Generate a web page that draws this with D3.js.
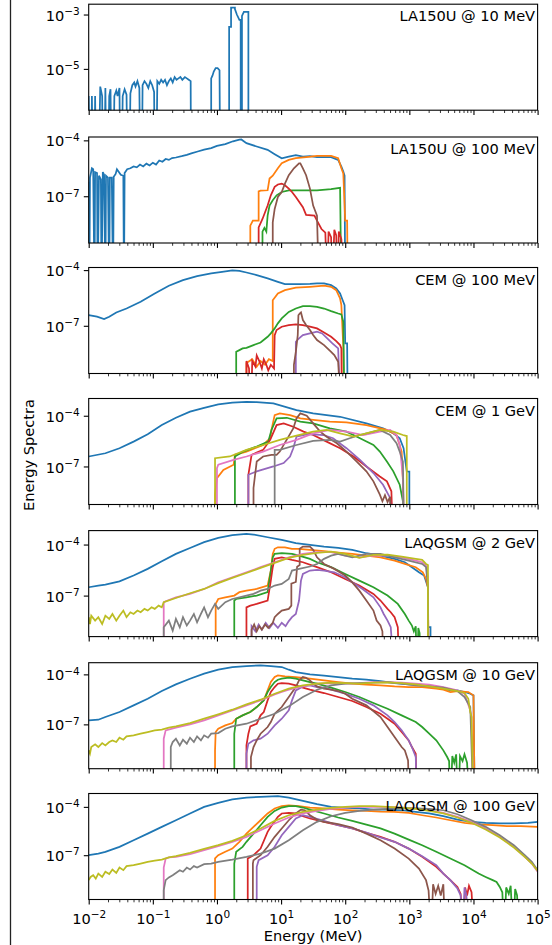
<!DOCTYPE html>
<html>
<head>
<meta charset="utf-8">
<script src="https://cdn.jsdelivr.net/npm/d3@7"></script>
<style>
  body { margin: 0; background: #fff; }
  svg { display: block; font-family: "DejaVu Sans", sans-serif; }
</style>
</head>
<body>
<div id="chart"></div>
<script>
// panel titles, y ranges (log10) and y tick exponents
var panelTitles = ["LA150U @ 10 MeV", "LA150U @ 100 MeV", "CEM @ 100 MeV", "CEM @ 1 GeV",
                   "LAQGSM @ 2 GeV", "LAQGSM @ 10 GeV", "LAQGSM @ 100 GeV"];
var yRanges = [[-6.52, -2.62], [-9.51, -3.82], [-9.57, -3.86], [-9.25, -2.98],
               [-9.41, -3.18], [-9.66, -3.30], [-9.75, -3.17]];
var yTickExps = [[-5, -3], [-7, -4], [-7, -4], [-7, -4], [-7, -4], [-7, -4], [-7, -4]];
var xTickExps = [-2, -1, 0, 1, 2, 3, 4, 5];
var colors = ["#1f77b4", "#ff7f0e", "#2ca02c", "#d62728", "#9467bd", "#8c564b", "#e377c2", "#7f7f7f", "#bcbd22"];

// spectra: [log10 E (MeV), log10 spectrum]; -12 means an empty bin
var p1Blue = [[-2.0,-6.0],[-1.97,-12],[-1.95,-6.0],[-1.92,-12],[-1.9,-6.0],[-1.87,-12],[-1.82,-5.65],[-1.79,-6.0],[-1.77,-12],[-1.74,-5.7],[-1.71,-12],[-1.68,-6.0],[-1.66,-5.75],[-1.63,-12],[-1.6,-6.0],[-1.57,-5.8],[-1.55,-6.0],[-1.52,-5.7],[-1.5,-12],[-1.47,-6.0],[-1.44,-5.75],[-1.41,-5.95],[-1.38,-12],[-1.35,-5.9],[-1.32,-5.6],[-1.29,-5.5],[-1.27,-5.65],[-1.24,-5.45],[-1.21,-5.7],[-1.18,-12],[-1.16,-5.6],[-1.13,-5.45],[-1.1,-5.55],[-1.07,-5.7],[-1.04,-5.45],[-1.01,-5.6],[-0.98,-5.85],[-0.96,-12],[-0.93,-5.45],[-0.9,-5.55],[-0.87,-5.4],[-0.84,-5.5],[-0.81,-5.4],[-0.78,-5.6],[-0.75,-5.45],[-0.72,-5.35],[-0.69,-5.5],[-0.66,-5.3],[-0.63,-5.4],[-0.6,-5.35],[-0.57,-5.3],[-0.54,-5.4],[-0.5,-5.3],[-0.47,-5.35],[-0.44,-5.4],[-0.41,-5.45],[-0.4,-12],[-0.09,-12],[-0.09,-5.35],[-0.07,-5.25],[-0.05,-5.1],[-0.02,-4.97],[0.01,-4.97],[0.04,-5.05],[0.06,-12],[0.19,-12],[0.19,-3.45],[0.22,-3.45],[0.22,-2.75],[0.28,-2.75],[0.28,-2.8],[0.31,-3.0],[0.35,-3.2],[0.37,-3.2],[0.37,-12],[0.39,-12],[0.39,-3.05],[0.42,-2.9],[0.49,-2.9],[0.49,-12]];

var p2Blue = [[-2,-6.22],[-1.99,-12],[-1.98,-6.0],[-1.95,-5.5],[-1.93,-5.55],[-1.91,-12],[-1.9,-5.7],[-1.87,-5.75],[-1.86,-12],[-1.84,-5.9],[-1.81,-6.1],[-1.8,-12],[-1.78,-5.7],[-1.76,-5.85],[-1.74,-12],[-1.73,-5.9],[-1.7,-6.0],[-1.68,-12],[-1.67,-6.0],[-1.64,-6.0],[-1.62,-12],[-1.61,-5.95],[-1.58,-5.8],[-1.56,-5.55],[-1.53,-5.7],[-1.5,-5.85],[-1.46,-5.9],[-1.45,-12],[-1.44,-5.75],[-1.4,-5.55],[-1.35,-5.5],[-1.3,-5.4],[-1.25,-5.45],[-1.2,-5.3],[-1.15,-5.4],[-1.1,-5.25],[-1.05,-5.35],[-1.0,-5.2],[-0.95,-5.3],[-0.9,-5.08],[-0.85,-5.15],[-0.8,-5.0],[-0.75,-5.05],[-0.7,-4.95],[-0.64,-4.92],[-0.55,-4.85],[-0.47,-4.78],[-0.4,-4.7],[-0.3,-4.6],[-0.2,-4.5],[-0.09,-4.42],[0.0,-4.3],[0.13,-4.2],[0.25,-4.05],[0.35,-3.96],[0.38,-3.95],[0.46,-4.15],[0.62,-4.33],[0.79,-4.51],[0.9,-4.74],[1.01,-4.96],[1.12,-4.87],[1.23,-4.8],[1.34,-4.87],[1.45,-4.85],[1.56,-4.9],[1.78,-4.9],[1.89,-5.05],[1.94,-5.41],[1.97,-5.68],[1.99,-5.9],[2.0,-12]];
var p2Orange = [[0.52,-12],[0.52,-8.58],[0.56,-8.31],[0.65,-8.31],[0.65,-6.74],[0.68,-6.7],[0.79,-6.68],[0.82,-6.05],[0.87,-5.9],[0.95,-5.5],[1.01,-5.23],[1.12,-5.05],[1.23,-4.96],[1.39,-4.9],[1.56,-4.83],[1.78,-4.83],[1.89,-4.96],[1.94,-5.5],[1.97,-5.77],[2.0,-8.31],[2.03,-8.31],[2.04,-12]];
var p2Green = [[0.71,-12],[0.71,-8.9],[0.74,-8.7],[0.77,-8.9],[0.79,-8.04],[0.82,-7.5],[0.87,-7.22],[0.93,-6.95],[1.01,-6.77],[1.12,-6.68],[1.34,-6.68],[1.56,-6.68],[1.78,-6.62],[1.92,-6.55],[1.94,-12]];
var p2Red = [[0.65,-12],[0.65,-8.67],[0.71,-8.22],[0.79,-7.5],[0.84,-6.95],[0.9,-6.5],[0.95,-6.37],[1.01,-6.32],[1.06,-6.41],[1.12,-6.59],[1.17,-6.77],[1.23,-7.04],[1.34,-7.59],[1.39,-8.0],[1.52,-8.04],[1.56,-8.31],[1.63,-8.76],[1.69,-8.95],[1.72,-12],[1.74,-8.9],[1.78,-9.2],[1.8,-12],[1.83,-8.8],[1.86,-9.1],[1.88,-12],[1.9,-8.9],[1.94,-9.3],[1.97,-12]];
var p2Brown = [[0.87,-12],[0.87,-8.4],[0.9,-7.68],[0.95,-7.04],[1.01,-6.77],[1.06,-6.32],[1.12,-5.87],[1.2,-5.5],[1.28,-5.23],[1.3,-5.23],[1.34,-5.5],[1.39,-5.87],[1.45,-6.59],[1.5,-7.5],[1.56,-8.04],[1.59,-12]];

var p3Blue = [[-2,-6.43],[-1.87,-6.51],[-1.76,-6.64],[-1.68,-6.51],[-1.57,-6.28],[-1.41,-6.07],[-1.19,-5.71],[-0.97,-5.26],[-0.75,-4.84],[-0.53,-4.54],[-0.31,-4.32],[-0.09,-4.18],[0.08,-4.09],[0.24,-4.02],[0.35,-4.04],[0.46,-4.13],[0.62,-4.27],[0.79,-4.45],[0.95,-4.63],[1.06,-4.75],[1.28,-4.75],[1.45,-4.74],[1.56,-4.72],[1.67,-4.72],[1.78,-4.81],[1.86,-4.99],[1.92,-5.26],[1.95,-5.53],[1.99,-5.89],[2.0,-7.95],[2.03,-7.95],[2.04,-12]];
var p3Orange = [[0.46,-12],[0.46,-9.0],[0.55,-8.8],[0.62,-9.2],[0.68,-8.9],[0.75,-9.1],[0.81,-8.8],[0.87,-8.9],[0.87,-5.62],[0.95,-5.26],[1.06,-5.08],[1.23,-4.95],[1.45,-4.9],[1.67,-4.84],[1.78,-4.9],[1.86,-5.08],[1.92,-5.53],[1.94,-5.89],[1.97,-8.1],[1.98,-12]];
var p3Green = [[0.3,-12],[0.3,-8.4],[0.35,-8.31],[0.4,-8.22],[0.46,-8.19],[0.57,-8.04],[0.68,-7.9],[0.79,-7.59],[0.84,-7.41],[0.9,-7.14],[0.95,-6.87],[1.01,-6.6],[1.12,-6.25],[1.23,-6.07],[1.34,-5.94],[1.45,-5.94],[1.56,-5.98],[1.67,-6.07],[1.78,-6.21],[1.89,-6.34],[1.94,-6.39],[1.97,-6.78],[1.99,-12]];
var p3Red = [[0.46,-12],[0.46,-8.9],[0.5,-9.3],[0.53,-12],[0.55,-8.9],[0.6,-9.2],[0.62,-8.6],[0.66,-8.9],[0.7,-9.3],[0.73,-8.8],[0.77,-9.1],[0.8,-9.4],[0.84,-9.1],[0.89,-9.3],[0.9,-7.5],[0.93,-7.23],[1.01,-7.05],[1.12,-6.96],[1.23,-6.93],[1.34,-6.96],[1.45,-7.05],[1.56,-7.14],[1.67,-7.36],[1.78,-7.59],[1.86,-7.83],[1.92,-8.04],[1.94,-8.22],[1.95,-12]];
var p3Purple = [[1.23,-12],[1.23,-7.86],[1.28,-7.68],[1.34,-7.5],[1.45,-7.41],[1.56,-7.32],[1.64,-7.41],[1.72,-7.68],[1.8,-7.95],[1.89,-8.22],[1.93,-12]];
var p3Brown = [[1.2,-12],[1.2,-9.1],[1.23,-8.4],[1.26,-7.5],[1.27,-6.43],[1.29,-6.34],[1.31,-6.28],[1.34,-6.69],[1.39,-6.96],[1.45,-7.23],[1.5,-7.5],[1.56,-7.77],[1.67,-8.04],[1.78,-8.4],[1.83,-8.58],[1.89,-8.94],[1.94,-12]];

var p4Blue = [[-2,-6.41],[-1.74,-6.22],[-1.52,-5.92],[-1.3,-5.53],[-1.08,-5.1],[-0.86,-4.55],[-0.64,-4.12],[-0.42,-3.76],[-0.2,-3.53],[0.02,-3.33],[0.24,-3.22],[0.46,-3.18],[0.62,-3.2],[0.88,-3.27],[1.24,-3.67],[1.5,-3.86],[1.92,-4.06],[2.33,-4.45],[2.59,-4.75],[2.75,-5.04],[2.85,-5.33],[2.91,-5.92],[2.96,-7.29],[3.0,-7.3],[3.0,-12]];
var p4Orange = [[-0.03,-12],[-0.03,-8.67],[0.0,-7.69],[0.1,-7.2],[0.26,-6.9],[0.28,-6.31],[0.46,-6.12],[0.72,-5.73],[0.83,-5.33],[0.85,-4.84],[0.9,-3.96],[0.98,-3.86],[1.14,-3.96],[1.3,-4.16],[1.5,-4.25],[1.76,-4.35],[2.02,-4.39],[2.33,-4.55],[2.65,-4.84],[2.8,-5.14],[2.88,-6.12],[2.9,-7.88],[2.92,-12]];
var p4Green = [[0.28,-12],[0.28,-6.41],[0.41,-6.12],[0.62,-5.82],[0.8,-5.53],[0.85,-4.84],[0.93,-4.16],[1.09,-4.12],[1.3,-4.35],[1.5,-4.45],[1.76,-4.75],[2.02,-4.94],[2.23,-5.33],[2.44,-5.73],[2.54,-6.12],[2.65,-6.71],[2.75,-7.29],[2.85,-8.08],[2.9,-9.06],[2.92,-12]];
var p4Red = [[0.49,-12],[0.49,-7.49],[0.54,-6.31],[0.72,-6.02],[0.83,-5.43],[0.93,-4.55],[1.04,-4.45],[1.19,-4.65],[1.35,-4.94],[1.5,-5.14],[1.71,-5.53],[1.92,-5.92],[2.13,-6.41],[2.33,-7.0],[2.54,-7.59],[2.65,-7.88],[2.72,-8.47],[2.75,-12]];
var p4Purple = [[0.49,-12],[0.49,-7.49],[0.62,-7.29],[0.88,-7.0],[1.04,-6.8],[1.14,-6.41],[1.19,-5.92],[1.24,-5.24],[1.4,-5.1],[1.5,-5.1],[1.66,-5.14],[1.81,-5.33],[2.02,-5.92],[2.23,-6.61],[2.44,-7.39],[2.59,-8.08],[2.7,-8.86],[2.75,-12]];
var p4Brown = [[0.57,-12],[0.57,-8.27],[0.62,-6.71],[0.72,-6.41],[0.85,-6.31],[0.93,-6.31],[0.98,-6.12],[1.19,-4.75],[1.24,-4.16],[1.3,-3.86],[1.4,-4.0],[1.5,-4.45],[1.61,-4.94],[1.71,-5.24],[1.87,-5.63],[2.02,-6.12],[2.18,-6.71],[2.33,-7.29],[2.44,-7.88],[2.54,-8.67],[2.58,-9.06],[2.62,-8.7],[2.66,-9.1],[2.7,-8.8],[2.72,-12]];
var p4Pink = [[0.0,-12],[0.0,-7.1],[0.02,-6.9],[0.26,-6.61],[0.46,-6.41],[0.72,-6.12],[0.98,-5.73],[1.24,-5.43],[1.5,-5.04],[1.76,-4.84],[2.02,-4.94],[2.28,-5.14],[2.54,-4.94],[2.7,-4.84],[2.8,-5.14],[2.85,-5.73],[2.9,-7.69],[2.92,-12]];
var p4Gray = [[0.9,-12],[0.9,-6.02],[0.98,-6.02],[1.24,-5.73],[1.5,-5.49],[1.76,-5.43],[1.92,-5.53],[2.07,-5.33],[2.23,-5.14],[2.44,-4.94],[2.54,-4.84],[2.7,-5.14],[2.8,-5.63],[2.85,-6.12],[2.9,-6.71],[2.92,-12]];
var p4Olive = [[-0.03,-12],[-0.03,-6.51],[0.2,-6.41],[0.46,-6.02],[0.72,-5.73],[0.98,-5.43],[1.24,-5.18],[1.5,-4.94],[1.71,-4.84],[1.92,-5.04],[2.13,-5.24],[2.33,-5.04],[2.54,-4.84],[2.75,-4.94],[2.9,-5.14],[2.96,-5.2],[2.96,-12]];

var p5Blue = [[-2,-6.51],[-1.85,-6.41],[-1.74,-6.35],[-1.52,-6.16],[-1.3,-5.82],[-1.08,-5.43],[-0.86,-4.98],[-0.64,-4.55],[-0.42,-4.2],[-0.2,-3.86],[0.02,-3.61],[0.24,-3.45],[0.46,-3.37],[0.57,-3.41],[0.79,-3.57],[1.01,-3.73],[1.23,-3.92],[1.45,-4.02],[1.67,-4.12],[1.89,-4.2],[2.11,-4.31],[2.33,-4.51],[2.55,-4.65],[2.77,-4.84],[2.93,-5.04],[3.04,-5.33],[3.15,-5.63],[3.23,-5.82],[3.29,-6.51],[3.29,-8.86],[3.33,-8.86],[3.33,-12]];
var p5Orange = [[-0.02,-12],[-0.02,-7.49],[0.02,-7.2],[0.13,-7.1],[0.27,-7.0],[0.35,-6.8],[0.46,-6.71],[0.62,-6.61],[0.79,-6.41],[0.84,-5.53],[0.87,-4.55],[0.9,-4.25],[0.95,-4.16],[1.06,-4.16],[1.17,-4.25],[1.28,-4.25],[1.45,-4.31],[1.67,-4.39],[1.89,-4.47],[2.11,-4.55],[2.33,-4.65],[2.55,-4.75],[2.77,-4.94],[2.93,-5.14],[3.1,-5.33],[3.21,-5.63],[3.26,-6.02],[3.29,-6.51],[3.3,-12]];
var p5Green = [[0.27,-12],[0.27,-7.29],[0.3,-7.2],[0.46,-7.1],[0.62,-7.0],[0.79,-6.8],[0.84,-5.53],[0.87,-4.75],[0.9,-4.55],[1.01,-4.51],[1.17,-4.55],[1.28,-4.65],[1.45,-4.84],[1.56,-5.04],[1.78,-5.33],[2.0,-5.73],[2.22,-6.12],[2.44,-6.51],[2.66,-7.0],[2.82,-7.49],[2.93,-8.08],[2.99,-8.47],[3.04,-8.76],[3.07,-9.1],[3.1,-8.8],[3.12,-12],[3.14,-8.9],[3.16,-9.2],[3.18,-12]];
var p5Red = [[0.46,-12],[0.46,-7.69],[0.52,-7.59],[0.62,-7.49],[0.79,-7.29],[0.84,-6.12],[0.87,-5.33],[0.9,-4.84],[1.01,-4.75],[1.17,-4.9],[1.34,-5.04],[1.56,-5.33],[1.78,-5.63],[2.0,-6.02],[2.22,-6.41],[2.44,-6.9],[2.55,-7.29],[2.66,-7.78],[2.71,-7.98],[2.77,-8.27],[2.82,-8.86],[2.85,-12]];
var p5Purple = [[0.54,-12],[0.54,-8.8],[0.6,-9.1],[0.65,-8.7],[0.7,-9.0],[0.76,-8.6],[0.82,-8.9],[0.88,-8.6],[0.95,-8.9],[1.01,-8.6],[1.07,-8.8],[1.12,-8.5],[1.17,-8.27],[1.23,-8.08],[1.28,-7.29],[1.31,-6.12],[1.34,-5.73],[1.45,-5.53],[1.56,-5.49],[1.67,-5.53],[1.83,-5.63],[2.0,-5.92],[2.11,-6.22],[2.27,-6.61],[2.44,-7.1],[2.55,-7.69],[2.6,-8.08],[2.66,-8.47],[2.71,-8.86],[2.77,-12]];
var p5Brown = [[0.54,-12],[0.54,-9.0],[0.58,-8.7],[0.62,-9.1],[0.66,-8.8],[0.7,-9.0],[0.75,-8.7],[0.8,-8.9],[0.87,-8.6],[0.9,-8.27],[0.95,-8.08],[1.01,-7.88],[1.12,-7.78],[1.16,-7.59],[1.16,-6.3],[1.23,-6.2],[1.25,-5.3],[1.29,-5.2],[1.29,-4.25],[1.34,-4.12],[1.45,-4.12],[1.5,-4.31],[1.56,-4.75],[1.67,-5.14],[1.83,-5.43],[2.0,-5.82],[2.11,-6.22],[2.22,-6.71],[2.33,-7.29],[2.44,-7.88],[2.49,-8.47],[2.55,-8.76],[2.58,-9.1],[2.6,-12]];
var p5Pink = [[-0.83,-12],[-0.83,-7.39],[-0.8,-7.33],[-0.64,-7.1],[-0.42,-6.9],[-0.2,-6.61],[0.02,-6.22],[0.24,-5.92],[0.46,-5.63],[0.68,-5.33],[0.9,-5.04],[1.12,-4.75],[1.34,-4.55],[1.56,-4.45],[1.78,-4.45],[2.0,-4.65],[2.22,-4.75],[2.44,-4.65],[2.66,-4.65],[2.88,-4.75],[3.1,-4.94],[3.2,-5.04],[3.26,-5.24],[3.29,-5.92],[3.3,-12]];
var p5Gray = [[-0.83,-12],[-0.83,-8.86],[-0.75,-8.47],[-0.69,-9.06],[-0.64,-8.37],[-0.58,-8.86],[-0.53,-8.27],[-0.47,-8.76],[-0.42,-8.47],[-0.36,-8.08],[-0.31,-8.57],[-0.25,-8.08],[-0.2,-7.69],[-0.14,-8.27],[-0.09,-7.88],[-0.03,-7.49],[0.02,-7.78],[0.13,-7.39],[0.24,-7.2],[0.35,-7.1],[0.46,-7.0],[0.57,-6.9],[0.68,-6.71],[0.79,-6.61],[0.9,-6.41],[1.01,-6.31],[1.12,-6.02],[1.15,-5.73],[1.17,-5.53],[1.28,-5.43],[1.45,-5.29],[1.56,-5.14],[1.67,-4.84],[1.78,-4.65],[1.89,-4.55],[2.0,-4.65],[2.11,-4.75],[2.33,-4.55],[2.55,-4.55],[2.77,-4.75],[2.99,-4.94],[3.2,-5.14],[3.26,-5.33],[3.29,-6.51],[3.3,-12]];
var p5Olive = [[-2,-8.27],[-1.98,-8.67],[-1.96,-8.18],[-1.9,-8.47],[-1.85,-8.27],[-1.79,-8.67],[-1.74,-8.18],[-1.68,-8.37],[-1.63,-8.08],[-1.57,-8.47],[-1.52,-8.18],[-1.46,-7.88],[-1.41,-8.27],[-1.35,-7.98],[-1.3,-8.08],[-1.24,-7.88],[-1.19,-7.98],[-1.13,-7.78],[-1.08,-7.88],[-1.02,-7.69],[-0.97,-7.78],[-0.91,-7.59],[-0.86,-7.69],[-0.83,-7.39],[-0.64,-7.14],[-0.42,-6.86],[-0.2,-6.61],[0.02,-6.27],[0.24,-5.96],[0.46,-5.67],[0.68,-5.37],[0.9,-5.08],[1.12,-4.78],[1.34,-4.61],[1.56,-4.49],[1.78,-4.41],[2.0,-4.55],[2.22,-4.78],[2.44,-4.61],[2.66,-4.59],[2.88,-4.71],[3.1,-4.84],[3.2,-4.9],[3.26,-5.14],[3.29,-5.2],[3.29,-12]];

var p6Blue = [[-2,-6.76],[-1.85,-6.72],[-1.74,-6.56],[-1.52,-6.26],[-1.3,-5.86],[-1.08,-5.46],[-0.86,-5.0],[-0.64,-4.6],[-0.42,-4.26],[-0.2,-3.96],[0.02,-3.72],[0.24,-3.56],[0.46,-3.5],[0.68,-3.46],[0.84,-3.5],[1.01,-3.56],[1.12,-3.72],[1.23,-3.86],[1.45,-4.0],[1.67,-4.08],[1.89,-4.16],[2.11,-4.26],[2.33,-4.32],[2.55,-4.4],[2.77,-4.52],[2.99,-4.6],[3.2,-4.66],[3.42,-4.76],[3.53,-4.86],[3.64,-4.96],[3.75,-4.96],[3.86,-5.06],[3.95,-5.16],[4.0,-5.26],[4.02,-12]];
var p6Orange = [[-0.03,-12],[-0.03,-8.56],[-0.02,-7.46],[0.02,-7.26],[0.13,-7.06],[0.24,-6.92],[0.3,-6.66],[0.4,-6.46],[0.52,-6.26],[0.62,-5.96],[0.73,-5.56],[0.79,-4.96],[0.84,-4.46],[0.9,-4.16],[0.95,-4.06],[1.06,-4.12],[1.23,-4.16],[1.45,-4.26],[1.67,-4.36],[1.89,-4.46],[2.11,-4.56],[2.33,-4.62],[2.55,-4.66],[2.77,-4.72],[2.99,-4.76],[3.2,-4.76],[3.42,-4.86],[3.53,-4.92],[3.64,-5.06],[3.75,-5.0],[3.92,-5.06],[4.0,-5.26],[4.02,-12]];
var p6Green = [[0.27,-12],[0.27,-7.56],[0.3,-6.66],[0.4,-6.46],[0.52,-6.26],[0.62,-5.96],[0.73,-5.56],[0.79,-5.06],[0.84,-4.76],[0.9,-4.46],[0.95,-4.32],[1.01,-4.26],[1.12,-4.2],[1.23,-4.26],[1.34,-4.36],[1.45,-4.46],[1.56,-4.56],[1.78,-4.8],[2.0,-5.06],[2.22,-5.36],[2.44,-5.72],[2.66,-6.06],[2.88,-6.46],[3.1,-6.86],[3.2,-7.16],[3.31,-7.56],[3.42,-7.96],[3.53,-8.56],[3.59,-8.96],[3.62,-9.2],[3.64,-12],[3.67,-8.9],[3.7,-9.3],[3.73,-8.8],[3.76,-12],[3.79,-8.9],[3.83,-9.2],[3.86,-8.8],[3.9,-9.3],[3.94,-12]];
var p6Red = [[0.46,-12],[0.46,-8.26],[0.49,-7.56],[0.52,-7.12],[0.62,-6.96],[0.68,-6.46],[0.73,-6.26],[0.79,-5.56],[0.84,-5.06],[0.9,-4.76],[0.95,-4.56],[1.01,-4.52],[1.12,-4.56],[1.23,-4.66],[1.34,-4.8],[1.45,-4.92],[1.67,-5.12],[1.89,-5.36],[2.11,-5.6],[2.33,-5.96],[2.55,-6.36],[2.66,-6.66],[2.77,-6.96],[2.88,-7.46],[2.99,-7.96],[3.04,-8.36],[3.1,-8.76],[3.12,-12]];
var p6Purple = [[0.46,-12],[0.46,-8.76],[0.49,-8.16],[0.57,-7.96],[0.68,-7.86],[0.79,-7.56],[0.9,-7.06],[1.01,-6.66],[1.12,-6.16],[1.17,-5.56],[1.23,-4.96],[1.34,-4.72],[1.45,-4.66],[1.56,-4.76],[1.67,-4.8],[1.78,-4.92],[2.0,-5.16],[2.22,-5.46],[2.44,-5.86],[2.66,-6.46],[2.77,-6.86],[2.88,-7.36],[2.99,-7.96],[3.04,-8.36],[3.1,-8.96],[3.12,-12]];
var p6Brown = [[0.53,-12],[0.53,-8.96],[0.57,-8.36],[0.62,-7.96],[0.68,-7.56],[0.79,-7.16],[0.84,-6.86],[0.9,-6.36],[1.01,-5.96],[1.12,-5.36],[1.23,-4.76],[1.28,-4.36],[1.34,-4.16],[1.39,-4.2],[1.45,-4.36],[1.5,-4.56],[1.56,-4.72],[1.67,-4.86],[1.78,-4.92],[1.89,-5.0],[2.0,-5.16],[2.11,-5.46],[2.33,-5.86],[2.55,-6.56],[2.66,-7.16],[2.77,-7.76],[2.88,-8.36],[2.93,-8.56],[2.98,-9.16],[3.0,-12]];
var p6Pink = [[-0.83,-12],[-0.83,-7.86],[-0.8,-7.36],[-0.64,-7.2],[-0.42,-7.0],[-0.2,-6.76],[0.02,-6.46],[0.24,-6.16],[0.46,-5.86],[0.68,-5.56],[0.9,-5.2],[1.01,-5.06],[1.12,-4.92],[1.34,-4.72],[1.56,-4.56],[1.78,-4.52],[2.0,-4.56],[2.22,-4.52],[2.44,-4.46],[2.66,-4.46],[2.88,-4.5],[3.1,-4.56],[3.31,-4.62],[3.53,-4.76],[3.75,-4.96],[3.86,-5.16],[3.95,-6.16],[3.97,-6.56],[4.0,-12]];
var p6Gray = [[-0.72,-12],[-0.72,-8.36],[-0.69,-8.06],[-0.64,-7.86],[-0.58,-8.26],[-0.53,-7.92],[-0.47,-8.16],[-0.42,-7.8],[-0.36,-8.06],[-0.31,-7.72],[-0.25,-7.96],[-0.2,-7.66],[-0.14,-7.8],[-0.09,-7.56],[0.02,-7.52],[0.13,-7.26],[0.24,-7.12],[0.46,-6.96],[0.68,-6.66],[0.9,-6.36],[1.12,-5.92],[1.34,-5.36],[1.56,-4.92],[1.78,-4.66],[2.0,-4.56],[2.22,-4.52],[2.44,-4.5],[2.66,-4.46],[2.88,-4.56],[3.1,-4.66],[3.31,-4.72],[3.53,-4.8],[3.75,-5.0],[3.86,-5.36],[3.95,-5.96],[4.0,-12]];
var p6Olive = [[-2,-8.56],[-1.98,-8.76],[-1.96,-8.36],[-1.9,-8.2],[-1.85,-8.36],[-1.79,-8.12],[-1.74,-8.26],[-1.68,-8.06],[-1.63,-7.96],[-1.57,-8.06],[-1.52,-7.8],[-1.46,-7.92],[-1.41,-7.72],[-1.3,-7.66],[-1.19,-7.56],[-1.08,-7.46],[-0.97,-7.36],[-0.86,-7.32],[-0.75,-7.2],[-0.64,-7.12],[-0.42,-6.92],[-0.2,-6.66],[0.02,-6.4],[0.24,-6.12],[0.46,-5.8],[0.68,-5.52],[0.9,-5.16],[1.12,-4.86],[1.34,-4.66],[1.56,-4.56],[1.78,-4.5],[2.0,-4.52],[2.22,-4.56],[2.44,-4.5],[2.66,-4.48],[2.88,-4.52],[3.1,-4.6],[3.31,-4.72],[3.53,-4.86],[3.75,-5.0],[3.86,-5.12],[3.92,-5.46],[3.95,-6.26],[3.97,-6.56],[4.0,-12]];

var p7Blue = [[-2,-7.0],[-1.85,-6.9],[-1.74,-6.79],[-1.52,-6.48],[-1.3,-6.07],[-1.08,-5.66],[-0.86,-5.24],[-0.64,-4.83],[-0.42,-4.41],[-0.2,-4.0],[0.02,-3.75],[0.24,-3.54],[0.46,-3.42],[0.68,-3.38],[0.95,-3.34],[1.12,-3.42],[1.34,-3.63],[1.56,-3.83],[1.78,-4.0],[2.0,-4.06],[2.22,-4.1],[2.44,-4.17],[2.66,-4.17],[2.88,-4.21],[3.1,-4.31],[3.31,-4.41],[3.53,-4.58],[3.75,-4.79],[3.97,-4.93],[4.19,-4.99],[4.41,-5.03],[4.63,-5.03],[4.85,-4.99],[5.0,-4.93]];
var p7Orange = [[-0.03,-12],[-0.03,-7.2],[0.02,-7.0],[0.13,-6.79],[0.24,-6.59],[0.35,-6.17],[0.46,-5.66],[0.57,-5.24],[0.68,-4.83],[0.79,-4.41],[0.9,-4.1],[1.01,-3.96],[1.12,-3.9],[1.28,-3.96],[1.45,-4.04],[1.67,-4.1],[1.89,-4.17],[2.11,-4.21],[2.33,-4.25],[2.55,-4.29],[2.77,-4.31],[2.99,-4.37],[3.2,-4.52],[3.42,-4.66],[3.64,-4.83],[3.86,-4.99],[4.08,-5.08],[4.3,-5.14],[4.52,-5.2],[4.74,-5.2],[5.0,-5.24]];
var p7Green = [[0.27,-12],[0.27,-7.52],[0.3,-6.79],[0.4,-6.48],[0.46,-6.17],[0.57,-5.66],[0.68,-5.14],[0.79,-4.62],[0.9,-4.25],[1.01,-4.04],[1.12,-3.96],[1.23,-3.96],[1.34,-4.04],[1.45,-4.17],[1.67,-4.41],[1.89,-4.66],[2.11,-4.87],[2.33,-5.1],[2.55,-5.34],[2.77,-5.66],[2.99,-6.03],[3.2,-6.38],[3.42,-6.79],[3.64,-7.2],[3.86,-7.62],[4.08,-8.14],[4.19,-8.35],[4.3,-8.55],[4.36,-8.66],[4.41,-8.97],[4.45,-9.3],[4.48,-12],[4.51,-9.0],[4.55,-9.4],[4.58,-8.9],[4.62,-12],[4.65,-9.1],[4.68,-9.5],[4.71,-12]];
var p7Red = [[0.48,-12],[0.48,-7.21],[0.57,-7.0],[0.68,-6.59],[0.79,-5.55],[0.84,-5.24],[0.95,-4.62],[1.01,-4.41],[1.12,-4.37],[1.23,-4.41],[1.34,-4.58],[1.45,-4.72],[1.67,-4.93],[1.89,-5.14],[2.11,-5.34],[2.33,-5.61],[2.55,-5.86],[2.77,-6.17],[2.99,-6.59],[3.2,-7.1],[3.42,-7.72],[3.53,-8.14],[3.64,-8.55],[3.75,-8.97],[3.8,-9.4],[3.84,-12],[3.87,-9.0],[3.9,-9.5],[3.93,-8.9],[3.97,-9.3],[4.01,-12]];
var p7Purple = [[0.62,-12],[0.62,-7.72],[0.65,-7.31],[0.79,-7.0],[0.9,-6.48],[1.01,-5.76],[1.12,-5.24],[1.23,-4.72],[1.34,-4.52],[1.45,-4.62],[1.67,-4.87],[1.89,-5.14],[2.11,-5.34],[2.33,-5.59],[2.55,-5.9],[2.77,-6.17],[2.99,-6.59],[3.2,-7.06],[3.42,-7.62],[3.53,-8.14],[3.64,-8.55],[3.75,-9.07],[3.8,-9.5],[3.83,-12],[3.86,-9.0],[3.89,-9.5],[3.92,-12]];
var p7Brown = [[0.56,-12],[0.56,-7.52],[0.57,-7.31],[0.68,-7.0],[0.79,-6.48],[0.9,-5.86],[1.01,-5.34],[1.12,-4.83],[1.23,-4.41],[1.31,-4.17],[1.37,-4.21],[1.45,-4.52],[1.56,-4.79],[1.67,-4.93],[1.78,-4.99],[1.89,-5.07],[2.11,-5.28],[2.33,-5.66],[2.55,-6.07],[2.77,-6.59],[2.99,-7.21],[3.15,-7.83],[3.26,-8.55],[3.3,-9.2],[3.34,-12],[3.37,-8.8],[3.41,-9.4],[3.45,-8.9],[3.49,-9.5],[3.53,-8.8],[3.56,-12]];
var p7Pink = [[-0.83,-12],[-0.83,-7.77],[-0.8,-7.21],[-0.75,-7.14],[-0.64,-7.1],[-0.42,-6.94],[-0.2,-6.69],[0.02,-6.44],[0.24,-6.17],[0.46,-5.86],[0.68,-5.45],[0.9,-5.03],[1.12,-4.66],[1.34,-4.41],[1.56,-4.25],[1.78,-4.12],[2.0,-4.04],[2.22,-4.0],[2.44,-4.0],[2.66,-4.0],[2.88,-4.04],[3.1,-4.1],[3.31,-4.21],[3.53,-4.37],[3.75,-4.62],[3.97,-4.93],[4.19,-5.34],[4.41,-5.86],[4.63,-6.48],[4.8,-7.1],[4.91,-7.52],[5.0,-8.03]];
var p7Gray = [[-0.83,-12],[-0.83,-9.17],[-0.8,-8.55],[-0.75,-8.38],[-0.69,-8.24],[-0.64,-8.1],[-0.58,-7.93],[-0.53,-8.03],[-0.47,-7.77],[-0.42,-7.89],[-0.36,-7.68],[-0.31,-7.77],[-0.2,-7.56],[-0.09,-7.52],[0.02,-7.41],[0.24,-7.27],[0.46,-7.1],[0.68,-6.9],[0.9,-6.59],[1.12,-6.07],[1.34,-5.45],[1.56,-4.93],[1.78,-4.58],[2.0,-4.37],[2.22,-4.25],[2.44,-4.17],[2.66,-4.12],[2.88,-4.1],[3.1,-4.1],[3.31,-4.12],[3.53,-4.21],[3.75,-4.46],[3.97,-4.83],[4.19,-5.24],[4.41,-5.76],[4.63,-6.38],[4.8,-7.0],[4.91,-7.41],[5.0,-7.93]];
var p7Olive = [[-2,-8.55],[-1.97,-8.35],[-1.93,-8.24],[-1.89,-8.45],[-1.85,-8.14],[-1.79,-8.35],[-1.74,-8.03],[-1.68,-8.17],[-1.63,-7.89],[-1.57,-8.1],[-1.52,-7.77],[-1.46,-7.93],[-1.41,-7.68],[-1.3,-7.62],[-1.19,-7.52],[-1.08,-7.41],[-0.97,-7.34],[-0.86,-7.27],[-0.75,-7.14],[-0.64,-7.06],[-0.42,-6.86],[-0.2,-6.61],[0.02,-6.38],[0.24,-6.11],[0.46,-5.76],[0.68,-5.34],[0.9,-4.87],[1.12,-4.52],[1.34,-4.31],[1.56,-4.17],[1.78,-4.06],[2.0,-4.0],[2.22,-3.96],[2.44,-3.96],[2.66,-4.0],[2.88,-4.04],[3.1,-4.12],[3.31,-4.25],[3.53,-4.41],[3.75,-4.66],[3.97,-4.99],[4.19,-5.41],[4.41,-5.9],[4.63,-6.52],[4.8,-7.1],[4.91,-7.52],[5.0,-7.97]];

// series of each panel as [color index, data], drawn in this order
var panelSeries = [
  [[0, p1Blue]],
  [[0, p2Blue], [1, p2Orange], [2, p2Green], [3, p2Red], [5, p2Brown]],
  [[0, p3Blue], [1, p3Orange], [2, p3Green], [3, p3Red], [4, p3Purple], [5, p3Brown]],
  [[0, p4Blue], [1, p4Orange], [2, p4Green], [3, p4Red], [4, p4Purple], [5, p4Brown], [6, p4Pink], [7, p4Gray], [8, p4Olive]],
  [[0, p5Blue], [1, p5Orange], [2, p5Green], [3, p5Red], [4, p5Purple], [5, p5Brown], [6, p5Pink], [7, p5Gray], [8, p5Olive]],
  [[0, p6Blue], [1, p6Orange], [2, p6Green], [3, p6Red], [4, p6Purple], [5, p6Brown], [6, p6Pink], [7, p6Gray], [8, p6Olive]],
  [[0, p7Blue], [1, p7Orange], [2, p7Green], [3, p7Red], [4, p7Purple], [5, p7Brown], [6, p7Pink], [7, p7Gray], [8, p7Olive]]
];

var width = 552, height = 945;
var left = 88.7, right = 537.6;
var tops = [4.2, 137, 267.5, 398.5, 530.6, 662.7, 793.5];
var panelH = 106;
var fontSize = 14.6;

var svg = d3.select("#chart").append("svg")
    .attr("width", width).attr("height", height);

// frame line on the left edge of the picture
svg.append("line").attr("x1", 10.5).attr("x2", 10.5).attr("y1", 0).attr("y2", height)
   .attr("stroke", "#222").attr("stroke-width", 1.3);

var x = d3.scaleLog().domain([1e-2, 1e5]).range([left, right]);

var minorTicks = [];
for (var e = -2; e < 5; e++) {
    for (var k = 2; k <= 9; k++) minorTicks.push(k * Math.pow(10, e));
}

function powerLabel(sel, exps) {
    sel.each(function(d, i) {
        var t = d3.select(this).text(null);
        var ex = exps[i];
        t.append("tspan").text("10");
        t.append("tspan").attr("dy", "-0.55em").attr("font-size", "0.72em")
         .text(ex < 0 ? "\u2212" + (-ex) : String(ex));
    });
}

panelTitles.forEach(function(title, p) {
    var top = tops[p];
    var y = d3.scaleLog().domain([Math.pow(10, yRanges[p][0]), Math.pow(10, yRanges[p][1])])
              .range([top + panelH, top]);
    var g = svg.append("g");

    g.append("clipPath").attr("id", "clip" + p)
     .append("rect").attr("x", left).attr("y", top).attr("width", right - left).attr("height", panelH);

    var line = d3.line()
        .x(function(d) { return x(Math.pow(10, d[0])); })
        .y(function(d) { return y(Math.pow(10, d[1])); });

    var lines = g.append("g").attr("clip-path", "url(#clip" + p + ")");
    panelSeries[p].forEach(function(s) {
        lines.append("path")
            .attr("d", line(s[1]))
            .attr("fill", "none")
            .attr("stroke", colors[s[0]])
            .attr("stroke-width", 1.75)
            .attr("stroke-linejoin", "miter");
    });

    // x axis: major + minor ticks, labels only on the bottom panel
    var xMajor = g.append("g").attr("transform", "translate(0," + (top + panelH) + ")")
        .call(d3.axisBottom(x).tickValues(xTickExps.map(function(v) { return Math.pow(10, v); }))
              .tickSize(4.9).tickPadding(4));
    var xMinor = g.append("g").attr("transform", "translate(0," + (top + panelH) + ")")
        .call(d3.axisBottom(x).tickValues(minorTicks).tickSize(2.8).tickFormat(""));
    if (p === panelTitles.length - 1) {
        xMajor.selectAll("text").call(powerLabel, xTickExps).attr("dy", "1.05em");
    } else {
        xMajor.selectAll("text").remove();
    }

    var yAxis = g.append("g").attr("transform", "translate(" + left + ",0)")
        .call(d3.axisLeft(y).tickValues(yTickExps[p].map(function(v) { return Math.pow(10, v); }))
              .tickSize(4.9).tickPadding(4));
    yAxis.selectAll("text").call(powerLabel, yTickExps[p]).attr("dy", "0.38em");

    [xMajor, xMinor, yAxis].forEach(function(a) {
        a.select(".domain").remove();
        a.selectAll("line").attr("stroke", "#000").attr("stroke-width", 1.1);
        a.selectAll("text").attr("font-size", fontSize).attr("font-family", "DejaVu Sans, sans-serif").attr("fill", "#000");
    });
    xMinor.selectAll("line").attr("stroke-width", 0.8);

    g.append("rect").attr("x", left).attr("y", top).attr("width", right - left).attr("height", panelH)
     .attr("fill", "none").attr("stroke", "#000").attr("stroke-width", 1.1);

    g.append("text").attr("x", right - 2.5).attr("y", top + 17)
     .attr("text-anchor", "end").attr("font-size", fontSize).text(title);
});

svg.append("text").attr("transform", "translate(34,455) rotate(-90)")
   .attr("text-anchor", "middle").attr("font-size", fontSize).text("Energy Spectra");
svg.append("text").attr("x", (left + right) / 2).attr("y", 941)
   .attr("text-anchor", "middle").attr("font-size", fontSize).text("Energy (MeV)");
</script>
</body>
</html>
